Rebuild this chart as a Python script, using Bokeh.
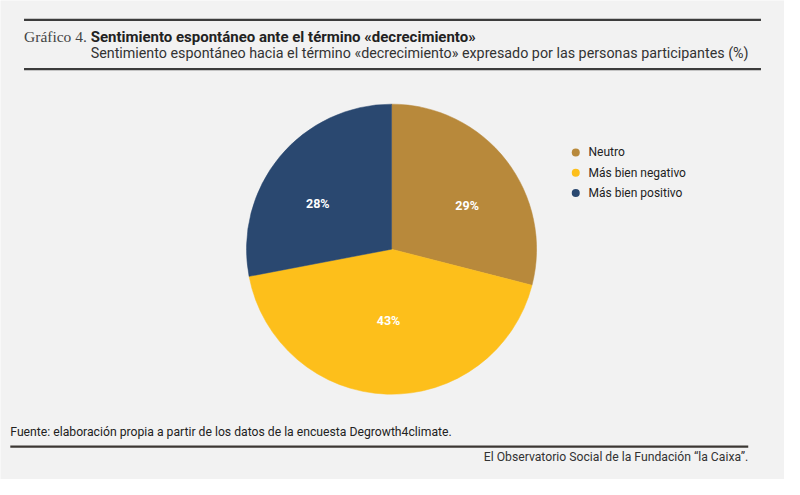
import numpy as np
from bokeh.plotting import figure
from bokeh.models import ColumnDataSource, Range1d
from bokeh.core.properties import value
from bokeh.embed import file_html
from bokeh.resources import INLINE

# ---- data ----
categories = ["Neutro", "Más bien negativo", "Más bien positivo"]
percentages = [29, 43, 28]
colors = ["#b8893b", "#fdbf1b", "#2a4870"]
title_prefix = "Gráfico 4."
title = "Sentimiento espontáneo ante el término «decrecimiento»"
subtitle = "Sentimiento espontáneo hacia el término «decrecimiento» expresado por las personas participantes (%)"
source_note = "Fuente: elaboración propia a partir de los datos de la encuesta Degrowth4climate."
credit = "El Observatorio Social de la Fundación “la Caixa”."

W, H = 784, 479          # canvas in pixels
VW, VH = 800, 495        # layout coordinate space (y measured from the top)
BG = "#f2f2f2"
SANS = "Roboto"

def Y(v):
    return VH - np.asarray(v, dtype=float)

p = figure(width=W, height=H, x_range=Range1d(0, VW), y_range=Range1d(0, VH),
           x_axis_type=None, y_axis_type=None, toolbar_location=None,
           output_backend="svg", min_border=0,
           background_fill_color=BG, border_fill_color=BG)
p.outline_line_color = None
p.grid.visible = False

# ---- pie ----
cx, cy, R = 399, Y(257), 148
vals = np.array(percentages, dtype=float)
frac = vals / vals.sum()
cum = np.concatenate([[0], np.cumsum(frac)])
start = np.pi / 2 - 2 * np.pi * cum[:-1]
end = np.pi / 2 - 2 * np.pi * cum[1:]
mid = (start + end) / 2
src = ColumnDataSource(dict(cat=categories, start=start, end=end, color=colors,
                            lx=cx + 0.66 * R * np.cos(mid),
                            ly=cy + 0.50 * R * np.sin(mid),
                            lab=[f"{int(v)}%" for v in percentages]))
p.wedge(x=cx, y=cy, radius=R, start_angle="start", end_angle="end",
        direction="clock", fill_color="color", line_color="color", line_width=0.5, source=src)
p.text(x="lx", y="ly", text="lab", source=src, text_color="white",
       text_font=value(SANS), text_font_style="bold", text_font_size="12.5px",
       text_align="center", text_baseline="middle")

# ---- legend ----
leg = ColumnDataSource(dict(x=[587] * 3, tx=[600] * 3, y=Y([157, 178, 199]),
                            cat=categories, color=colors))
p.scatter(x="x", y="y", source=leg, size=8, fill_color="color", line_color=None)
p.text(x="tx", y="y", text="cat", source=leg, text_color="#222222",
       text_font=value(SANS), text_font_size="12px", text_baseline="middle")

# ---- header ----
p.segment(x0=[24, 24], y0=Y([20, 71]), x1=[776, 776], y1=Y([20, 71]),
          line_color="#3c3c3c", line_width=2.2)
p.text(x=[24], y=Y([37.5]), text=[title_prefix], text_font=value("Liberation Serif"),
       text_font_size="15.5px", text_color="#444444", text_baseline="middle")
p.text(x=[92], y=Y([37.5]), text=[title], text_font=value(SANS), text_font_style="bold",
       text_font_size="15px", text_color="#222222", text_baseline="middle")
p.text(x=[92], y=Y([54]), text=[subtitle], text_font=value(SANS),
       text_font_size="14.3px", text_color="#333333", text_baseline="middle")

# ---- footer ----
p.text(x=[10], y=Y([446]), text=[source_note], text_font=value(SANS),
       text_font_size="12.2px", text_color="#222222", text_baseline="middle")
p.segment(x0=[10], y0=Y([461]), x1=[763], y1=Y([461]), line_color="#3c3834", line_width=2.2)
p.text(x=[763], y=Y([471.5]), text=[credit], text_font=value(SANS),
       text_font_size="12.2px", text_color="#333333", text_align="right",
       text_baseline="middle")

open("out.html", "w").write(file_html(p, INLINE))
